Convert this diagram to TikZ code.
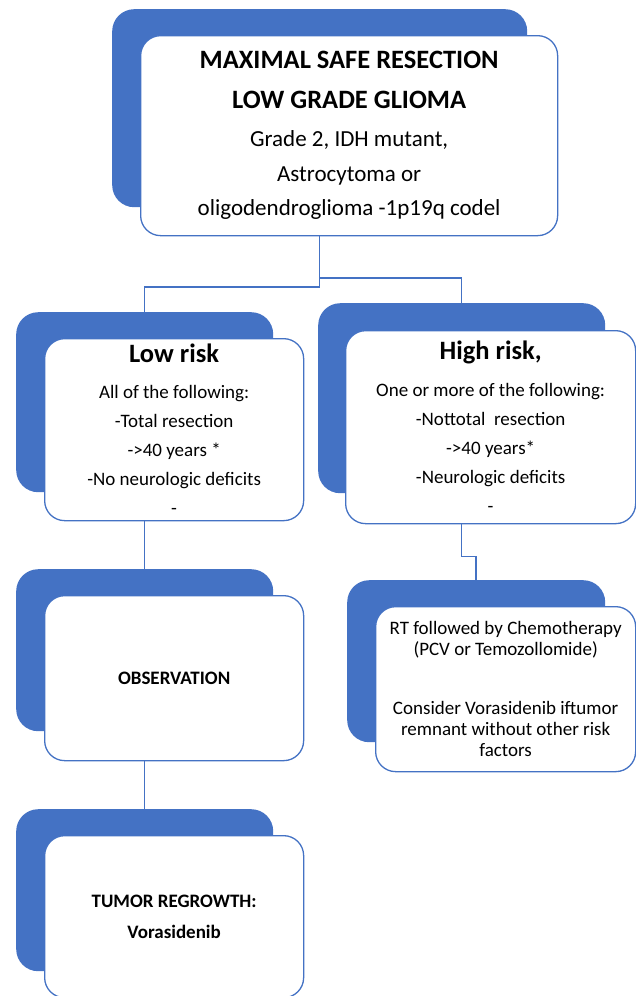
\documentclass[tikz,border=0pt]{standalone}
\usepackage{fontspec}
\setmainfont{Carlito}
\usepackage{tikz}
\definecolor{cardblue}{HTML}{4472C4}
\tikzstyle{back}=[fill=cardblue,rounded corners=22pt,anchor=north west,inner sep=0pt]
\tikzstyle{card}=[fill=white,draw=cardblue,line width=1.3pt,rounded corners=20pt,anchor=north west,inner sep=0pt,align=center]
\tikzstyle{wire}=[draw=cardblue,line width=1.5pt]
\tikzstyle{small}=[font=\fontsize{19}{29}\selectfont]

\begin{document}
\begin{tikzpicture}[x=1pt,y=-1pt]
\useasboundingbox (0,0) rectangle (636,996);
% blue backing cards
\foreach \n/\x/\y/\w/\h in {top/112/9/415/198, low/16/312/257/180, high/318/303/287/190,
                            obs/16/569/257/162, tum/16/809/257/162, rt/347/580/258/162}
    \node[back,minimum width=\w pt,minimum height=\h pt] (\n-bk) at (\x,\y) {};
% white cards
\node[card,minimum width=417pt,minimum height=200pt,font=\fontsize{23}{34.5}\selectfont] (top) at (140,35)
    {{\bfseries\fontsize{26.5}{34.5}\selectfont MAXIMAL SAFE RESECTION}\\[5pt]
     {\bfseries\fontsize{26.5}{34.5}\selectfont LOW GRADE GLIOMA}\\[4pt]
     Grade 2, IDH mutant,\\ Astrocytoma or\\ oligodendroglioma -1p19q codel};
\node[card,small,minimum width=259pt,minimum height=182pt] (low) at (44,338)
    {{\bfseries\fontsize{26.5}{29}\selectfont Low risk}\\[7pt]
     All of the following:\\ -Total resection\\ ->40 years *\\ -No neurologic deficits\\ -};
\node[card,small,minimum width=290pt,minimum height=193pt] (high) at (345,330)
    {{\bfseries\fontsize{26.5}{29}\selectfont High risk,}\\[8pt]
     One or more of the following:\\ -Nottotal\ \ resection\\ ->40 years*\\ -Neurologic deficits\\ -};
\node[card,minimum width=259pt,minimum height=165pt,font=\fontsize{19}{21}\selectfont\bfseries] (obs) at (44,595)
    {OBSERVATION};
\node[card,minimum width=259pt,minimum height=162pt,font=\fontsize{19}{31}\selectfont\bfseries] (tum) at (44,835)
    {TUMOR REGROWTH:\\ Vorasidenib};
\node[card,minimum width=260pt,minimum height=165pt,font=\fontsize{19}{21}\selectfont] (rt) at (375,606)
    {RT followed by Chemotherapy\\ (PCV or Temozollomide)\\[38pt]
     Consider Vorasidenib iftumor\\ remnant without other risk\\ factors};
% connectors
\coordinate (split) at (0,287);
\coordinate (fork) at (0,278);
\draw[wire] (top-bk.south |- top.south) -- (top-bk.south |- split) -| (low-bk.north);
\draw[wire] (top-bk.south |- fork) -| (high-bk.north);
\draw[wire] (low-bk.south |- low.south) -- (obs-bk.north);
\draw[wire] (obs-bk.south |- obs.south) -- (tum-bk.north);
\draw[wire] (high-bk.south |- high.south) -- ++(0,32) -| (rt-bk.north);
\end{tikzpicture}
\end{document}
